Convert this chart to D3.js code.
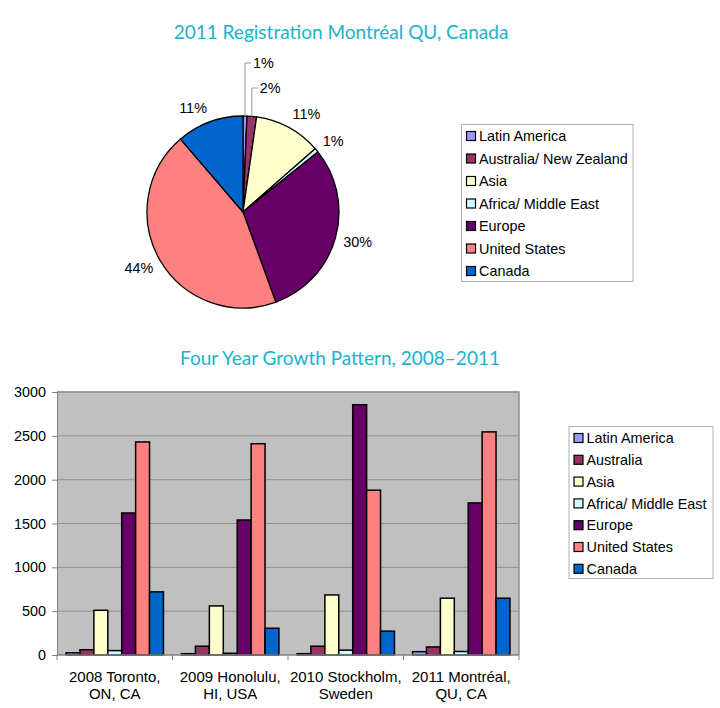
<!DOCTYPE html>
<html>
<head>
<meta charset="utf-8">
<script src="https://cdn.jsdelivr.net/npm/d3@7"></script>
<style>
  body { margin: 0; background: #fff; }
  svg text { font-family: "Liberation Sans", Arial, sans-serif; }
  .title { font-family: Lato, "Open Sans", sans-serif !important; fill: #1ab2cd; font-size: 19px; }
</style>
</head>
<body>
<svg id="chart" width="720" height="708"></svg>
<script>
// DATA ----------------------------------------------------------
let regions = ["Latin America", "Australia", "Asia", "Africa/ Middle East", "Europe", "United States", "Canada"];
let pie_regions = ["Latin America", "Australia/ New Zealand", "Asia", "Africa/ Middle East", "Europe", "United States", "Canada"];
let region_colors = ["#9999ff", "#993366", "#ffffcc", "#ccffff", "#660066", "#ff8080", "#0066cc"];
let events = [["2008 Toronto,", "ON, CA"], ["2009 Honolulu,", "HI, USA"], ["2010 Stockholm,", "Sweden"], ["2011 Montréal,", "QU, CA"]];
let toronto_2008 = [25, 60, 510, 50, 1620, 2430, 720];
let honolulu_2009 = [15, 100, 560, 20, 1540, 2410, 305];
let stockholm_2010 = [15, 100, 685, 55, 2855, 1880, 272];
let montreal_2011 = [38, 92, 648, 40, 1735, 2545, 648];
let y_ticks = [0, 500, 1000, 1500, 2000, 2500, 3000];

let series_by_event = [toronto_2008, honolulu_2009, stockholm_2010, montreal_2011];

let svg = d3.select("#chart");
let font_size = 14.4;

// PIE -----------------------------------------------------------
let pie_opts = { cx: 243, cy: 212, r: 96, label_r: 104 };

svg.append("text")
  .attr("class", "title")
  .attr("x", 341)
  .attr("y", 39)
  .attr("text-anchor", "middle")
  .text("2011 Registration Montréal QU, Canada");

let pie_g = svg.append("g").attr("transform", `translate(${pie_opts.cx},${pie_opts.cy})`);
let pie_data = d3.pie().sort(null)(montreal_2011);
let arc = d3.arc().innerRadius(0).outerRadius(pie_opts.r);
let total = d3.sum(montreal_2011);

pie_g.selectAll("path")
  .data(pie_data)
  .enter()
  .append("path")
  .attr("d", arc)
  .attr("fill", (d, i) => region_colors[i])
  .attr("stroke", "#000")
  .attr("stroke-width", 1.3)
  .attr("stroke-linejoin", "round");

// small slices at the top get leader lines (heights above centre)
let leader_heights = { 0: 149, 1: 124 };

pie_data.forEach((d, i) => {
  let mid = (d.startAngle + d.endAngle) / 2;
  let pct = Math.round((d.value / total) * 100) + "%";
  if (leader_heights[i] !== undefined) {
    let x0 = Math.sin(mid) * pie_opts.r;
    let y0 = -Math.cos(mid) * pie_opts.r;
    let ly = -leader_heights[i];
    pie_g.append("path")
      .attr("d", `M${x0},${y0}V${ly}H${x0 + 6}`)
      .attr("fill", "none")
      .attr("stroke", "#999")
      .attr("stroke-width", 1);
    pie_g.append("text")
      .attr("x", x0 + 8)
      .attr("y", ly)
      .attr("dy", ".35em")
      .attr("font-size", font_size)
      .text(pct);
  } else {
    // label box sits just outside the rim, on the side of the slice
    let s = Math.sin(mid), c = -Math.cos(mid);
    pie_g.append("text")
      .attr("x", s * pie_opts.label_r)
      .attr("y", c * pie_opts.label_r + c * 7)
      .attr("dy", ".35em")
      .attr("text-anchor", s >= 0 ? "start" : "end")
      .attr("font-size", font_size)
      .text(pct);
  }
});

// legend boxes
function drawLegend(x, y, w, h, names, step) {
  let g = svg.append("g").attr("transform", `translate(${x},${y})`);
  g.append("rect")
    .attr("width", w)
    .attr("height", h)
    .attr("fill", "#fff")
    .attr("stroke", "#b0b0b0")
    .attr("stroke-width", 1);
  let items = g.selectAll("g.item")
    .data(names)
    .enter()
    .append("g")
    .attr("class", "item")
    .attr("transform", (d, i) => `translate(0,${11.5 + i * step})`);
  items.append("rect")
    .attr("x", 5)
    .attr("y", -4.5)
    .attr("width", 9)
    .attr("height", 9)
    .attr("fill", (d, i) => region_colors[i])
    .attr("stroke", "#000")
    .attr("stroke-width", 1.2);
  items.append("text")
    .attr("x", 17.5)
    .attr("dy", ".36em")
    .attr("font-size", font_size)
    .text((d) => d);
}

drawLegend(461.5, 124.5, 171.5, 157, pie_regions, 22.5);

// BARS ----------------------------------------------------------
let margin = { top: 392, left: 57, right: 201, bottom: 53 };
let plot_w = 720 - margin.left - margin.right;
let plot_h = 708 - margin.top - margin.bottom;

svg.append("text")
  .attr("class", "title")
  .attr("x", 340)
  .attr("y", 365)
  .attr("text-anchor", "middle")
  .text("Four Year Growth Pattern, 2008–2011");

let bar_g = svg.append("g").attr("transform", `translate(${margin.left},${margin.top})`);

let x = d3.scaleBand().domain(d3.range(events.length)).range([0, plot_w]);
let x_inner = d3.scaleBand().domain(d3.range(regions.length)).range([0, x.bandwidth()]).paddingOuter(0.65);
let y = d3.scaleLinear().domain([0, 3000]).range([plot_h, 0]);

bar_g.append("rect")
  .attr("width", plot_w)
  .attr("height", plot_h)
  .attr("fill", "#c0c0c0");

bar_g.selectAll("line.grid")
  .data(y_ticks.slice(1))
  .enter()
  .append("line")
  .attr("class", "grid")
  .attr("x1", 0)
  .attr("x2", plot_w)
  .attr("y1", (d) => y(d))
  .attr("y2", (d) => y(d))
  .attr("stroke", "#8f8f8f")
  .attr("stroke-width", 1);

// plot border top/right
bar_g.append("path")
  .attr("d", `M0,0H${plot_w}V${plot_h}`)
  .attr("fill", "none")
  .attr("stroke", "#8f8f8f")
  .attr("stroke-width", 1.5);

let groups = bar_g.selectAll("g.group")
  .data(series_by_event)
  .enter()
  .append("g")
  .attr("class", "group")
  .attr("transform", (d, i) => `translate(${x(i)},0)`);

groups.selectAll("rect")
  .data((d) => d)
  .enter()
  .append("rect")
  .attr("x", (d, i) => x_inner(i))
  .attr("width", x_inner.bandwidth())
  .attr("y", (d) => y(d))
  .attr("height", (d) => y(0) - y(d))
  .attr("fill", (d, i) => region_colors[i])
  .attr("stroke", "#000")
  .attr("stroke-width", 1.5);

// y axis
let y_axis = bar_g.append("g")
  .call(d3.axisLeft(y).tickValues(y_ticks).tickSize(5).tickPadding(6).tickFormat(d3.format("d")));
y_axis.select(".domain").attr("stroke", "#808080");
y_axis.selectAll(".tick line").attr("stroke", "#808080");
y_axis.selectAll("text")
  .attr("font-size", font_size)
  .attr("fill", "#000")
  .style("font-family", '"Liberation Sans", Arial, sans-serif');

// x axis
let x_axis = bar_g.append("g")
  .attr("transform", `translate(0,${plot_h})`);
x_axis.append("line")
  .attr("x1", 0)
  .attr("x2", plot_w)
  .attr("stroke", "#808080")
  .attr("stroke-width", 1.5);
x_axis.selectAll("line.tick")
  .data(d3.range(events.length + 1))
  .enter()
  .append("line")
  .attr("class", "tick")
  .attr("x1", (d) => d * x.step())
  .attr("x2", (d) => d * x.step())
  .attr("y2", 5)
  .attr("stroke", "#808080");

let x_labels = x_axis.selectAll("text")
  .data(events)
  .enter()
  .append("text")
  .attr("x", (d, i) => x(i) + x.bandwidth() / 2)
  .attr("y", 27)
  .attr("text-anchor", "middle")
  .attr("font-size", 15);
x_labels.selectAll("tspan")
  .data((d) => d)
  .enter()
  .append("tspan")
  .attr("x", function () { return this.parentNode.getAttribute("x"); })
  .attr("dy", (d, i) => (i === 0 ? 0 : 17))
  .text((d) => d);

drawLegend(569, 426.5, 144, 152, regions, 21.8);
</script>
</body>
</html>
